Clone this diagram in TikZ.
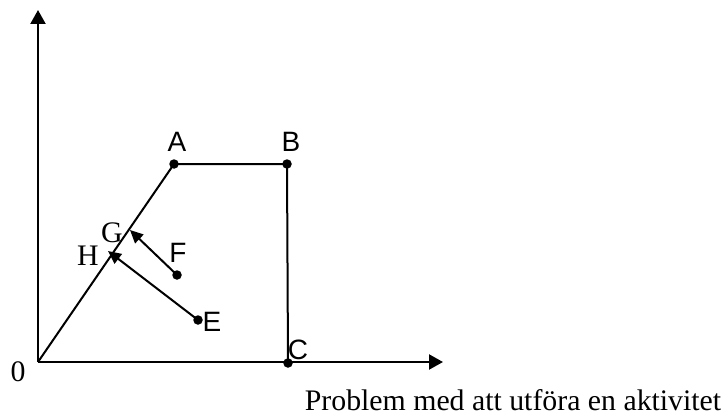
\documentclass[tikz,border=0pt]{standalone}
\usepackage{fontspec}
\setmainfont{Liberation Serif}
\setsansfont{Liberation Sans}
\usetikzlibrary{arrows.meta}
\begin{document}
\begin{tikzpicture}[x=1pt,y=-1pt,
  ln/.style={line width=2pt},
  axis/.style={line width=2.2pt,-{Triangle[length=14pt,width=15pt]}},
  mv/.style={line width=2pt,-{Triangle[length=13pt,width=12pt]}},
  dot/.style={circle,fill=black,inner sep=0pt,minimum size=9.5pt},
  sl/.style={font=\sffamily\fontsize{28}{32}\selectfont,inner sep=0pt},
  rl/.style={font=\rmfamily\fontsize{29.8}{34}\selectfont,inner sep=0pt}]
\useasboundingbox (0,0) rectangle (726,420);
\coordinate (O) at (38,362);
\coordinate (Ytop) at (38,10);
\coordinate (Xend) at (443,362);
\coordinate (A) at (174,164);
\coordinate (B) at (287,164);
\coordinate (C) at (288,363);
\coordinate (F) at (177,275);
\coordinate (E) at (198,320);
\coordinate (G) at (130,230);
\coordinate (H) at (108,251);
\draw[axis] (O) -- (Ytop);
\draw[axis] (O) -- (Xend);
\draw[ln] (O) -- (A) -- (B) -- (C);
\draw[mv] (F) -- (G);
\draw[mv] (E) -- (H);
\node[dot] (dA) at (A) {};
\node[dot] (dB) at (B) {};
\node[dot] (dC) at (C) {};
\node[dot] (dF) at (F) {};
\node[dot] (dE) at (E) {};
\node[sl] (lA) at (177,142) {A};
\node[sl] (lB) at (291,142) {B};
\node[sl] (lC) at (298,350) {C};
\node[sl] (lF) at (178,253) {F};
\node[sl] (lE) at (212,322) {E};
\node[rl] (lG) at (112,233) {G};
\node[rl] (lH) at (88,256) {H};
\node[rl] (l0) at (18,372) {0};
\node[rl] (cap) at (513,400) {Problem med att utföra en aktivitet};
\end{tikzpicture}
\end{document}
